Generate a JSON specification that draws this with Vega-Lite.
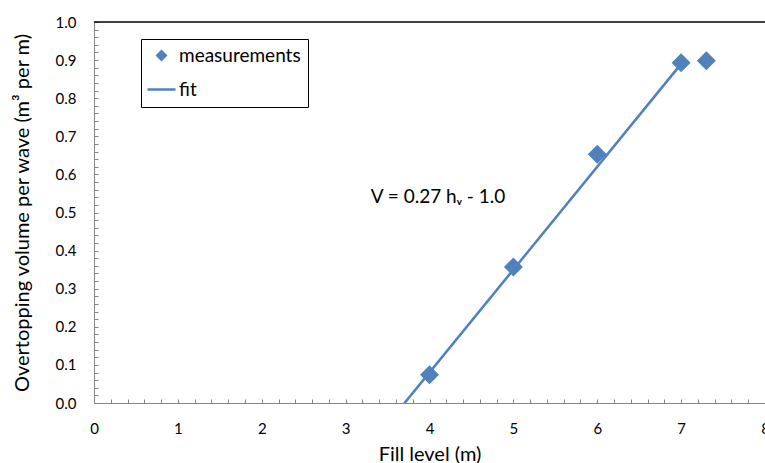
{
  "$schema": "https://vega.github.io/schema/vega-lite/v6.json",
  "width": 671,
  "height": 381,
  "autosize": "none",
  "padding": {"left": 94, "top": 22, "right": 0, "bottom": 60},
  "background": "white",
  "config": {
    "font": "Lato",
    "view": {"stroke": null},
    "axis": {
      "domainColor": "#868686",
      "tickColor": "#868686",
      "grid": false,
      "labelFont": "Lato",
      "labelFontSize": 15,
      "labelColor": "#000000",
      "titleFont": "Lato",
      "titleFontSize": 20,
      "titleFontWeight": "normal",
      "titleColor": "#000000",
      "labelOverlap": false,
      "labelFlush": false
    }
  },
  "datasets": {
    "measurements": [
      {"fill_level": 4.0, "volume": 0.074, "series": "measurements"},
      {"fill_level": 5.0, "volume": 0.357, "series": "measurements"},
      {"fill_level": 6.0, "volume": 0.653, "series": "measurements"},
      {"fill_level": 7.0, "volume": 0.893, "series": "measurements"},
      {"fill_level": 7.3, "volume": 0.898, "series": "measurements"}
    ],
    "fit": [
      {"fill_level": 3.7, "volume": -0.001, "series": "fit"},
      {"fill_level": 7.0, "volume": 0.89, "series": "fit"}
    ],
    "equation": [
      {"fill_level": 3.3, "volume": 0.54, "label": "V = 0.27 hᵥ - 1.0"}
    ],
    "frame": [
      {"volume": 1.0}
    ]
  },
  "layer": [
    {
      "data": {"name": "fit"},
      "mark": {"type": "line", "strokeWidth": 2.5, "clip": true},
      "encoding": {
        "x": {
          "field": "fill_level",
          "type": "quantitative",
          "title": "Fill level (m)",
          "scale": {"domain": [0, 8], "nice": false},
          "axis": {
            "values": [0,0.2,0.4,0.6,0.8,1,1.2,1.4,1.6,1.8,2,2.2,2.4,2.6,2.8,3,3.2,3.4,3.6,3.8,4,4.2,4.4,4.6,4.8,5,5.2,5.4,5.6,5.8,6,6.2,6.4,6.6,6.8,7,7.2,7.4,7.6,7.8,8],
            "tickCount": 1000,
            "labelOverlap": false,
            "labelFlush": false,
            "labelExpr": "abs(datum.value - round(datum.value)) < 0.001 ? format(datum.value, 'd') : ''",
            "tickSize": -4,
            "labelPadding": 22,
            "titlePadding": 8
          }
        },
        "y": {
          "field": "volume",
          "type": "quantitative",
          "title": "Overtopping volume per wave (m³ per m)",
          "scale": {"domain": [0, 1], "nice": false},
          "axis": {
            "values": [0,0.02,0.04,0.06,0.08,0.1,0.12,0.14,0.16,0.18,0.2,0.22,0.24,0.26,0.28,0.3,0.32,0.34,0.36,0.38,0.4,0.42,0.44,0.46,0.48,0.5,0.52,0.54,0.56,0.58,0.6,0.62,0.64,0.66,0.68,0.7,0.72,0.74,0.76,0.78,0.8,0.82,0.84,0.86,0.88,0.9,0.92,0.94,0.96,0.98,1],
            "tickCount": 1000,
            "labelOverlap": false,
            "labelFlush": false,
            "labelExpr": "abs(datum.value * 10 - round(datum.value * 10)) < 0.001 ? format(datum.value, '.1f') : ''",
            "tickSize": -4,
            "labelPadding": 22,
            "titlePadding": 23
          }
        },
        "color": {
          "field": "series",
          "type": "nominal",
          "scale": {"domain": ["measurements", "fit"], "range": ["#4F81BD", "#4F81BD"]},
          "legend": {
            "title": null,
            "orient": "none",
            "legendX": 47,
            "legendY": 17,
            "strokeColor": "#000000",
            "fillColor": "#FFFFFF",
            "padding": 7,
            "labelFont": "Lato",
            "labelFontSize": 19,
            "labelColor": "#000000",
            "symbolOffset": 4,
            "labelOffset": 8,
            "rowPadding": 14,
            "symbolSize": 784,
            "encode": {
              "symbols": {
                "update": {
                  "shape": {"signal": "datum.value === 'fit' ? 'stroke' : 'diamond'"},
                  "size": {"signal": "datum.value === 'fit' ? 784 : 144"},
                  "fill": {"signal": "datum.value === 'fit' ? 'transparent' : '#4F81BD'"},
                  "stroke": {"value": "#4F81BD"},
                  "strokeWidth": {"signal": "datum.value === 'fit' ? 2.5 : 0"}
                }
              }
            }
          }
        }
      }
    },
    {
      "data": {"name": "measurements"},
      "mark": {"type": "point", "shape": "diamond", "filled": true, "size": 361, "opacity": 1},
      "encoding": {
        "x": {"field": "fill_level", "type": "quantitative"},
        "y": {"field": "volume", "type": "quantitative"},
        "color": {"field": "series", "type": "nominal"}
      }
    },
    {
      "data": {"name": "frame"},
      "mark": {"type": "rule", "color": "#000000", "strokeWidth": 1.5},
      "encoding": {"y": {"field": "volume", "type": "quantitative"}}
    },
    {
      "data": {"name": "equation"},
      "mark": {"type": "text", "align": "left", "baseline": "middle", "font": "Lato", "fontSize": 19, "color": "#000000"},
      "encoding": {
        "x": {"field": "fill_level", "type": "quantitative"},
        "y": {"field": "volume", "type": "quantitative"},
        "text": {"field": "label"}
      }
    }
  ]
}
